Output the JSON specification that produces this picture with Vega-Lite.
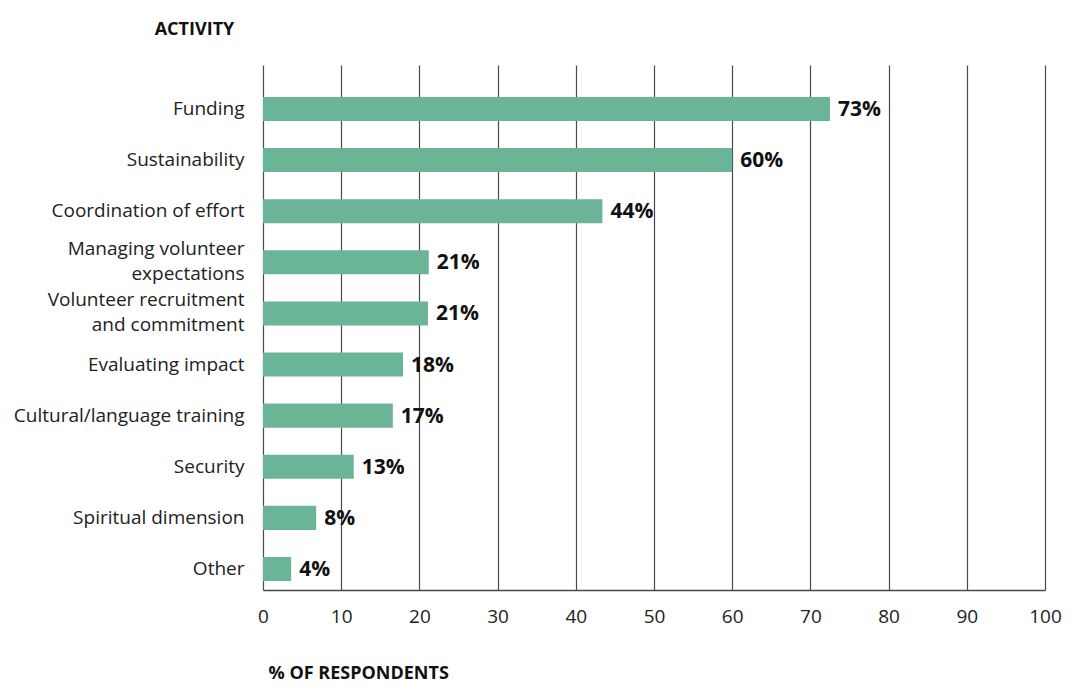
{
  "$schema": "https://vega.github.io/schema/vega-lite/v6.json",
  "autosize": "none",
  "width": 782,
  "height": 525,
  "padding": {"left": 263, "top": 65, "right": 23, "bottom": 95},
  "background": "white",
  "config": {
    "view": {"stroke": null},
    "font": "Open Sans"
  },
  "data": {
    "values": [
      {"activity": "Funding", "pct": 72.5, "label": "73%"},
      {"activity": "Sustainability", "pct": 60.0, "label": "60%"},
      {"activity": "Coordination of effort", "pct": 43.4, "label": "44%"},
      {"activity": "Managing volunteer|expectations", "pct": 21.2, "label": "21%"},
      {"activity": "Volunteer recruitment|and commitment", "pct": 21.1, "label": "21%"},
      {"activity": "Evaluating impact", "pct": 17.9, "label": "18%"},
      {"activity": "Cultural/language training", "pct": 16.6, "label": "17%"},
      {"activity": "Security", "pct": 11.6, "label": "13%"},
      {"activity": "Spiritual dimension", "pct": 6.8, "label": "8%"},
      {"activity": "Other", "pct": 3.6, "label": "4%"}
    ]
  },
  "encoding": {
    "y": {
      "field": "activity",
      "type": "nominal",
      "sort": null,
      "scale": {"paddingInner": 0.53, "paddingOuter": 0.4, "align": 0.78},
      "axis": {
        "title": "ACTIVITY",
        "titleAngle": 0,
        "titleX": -69,
        "titleY": -36,
        "titleAlign": "center",
        "titleBaseline": "middle",
        "titleFontSize": 18,
        "titleFontWeight": "bold",
        "titleColor": "#111",
        "labelExpr": "split(datum.label, '|')",
        "labelFontSize": 19,
        "labelColor": "#222",
        "labelPadding": 19,
        "labelLineHeight": 25,
        "labelLimit": 400,
        "labelOffset": {"condition": {"test": "indexof(datum.value, '|') >= 0", "value": -13}, "value": 0},
        "ticks": false,
        "domain": false,
        "grid": false
      }
    }
  },
  "layer": [
    {
      "mark": {"type": "bar", "color": "#6ab497"},
      "encoding": {
        "x": {
          "field": "pct",
          "type": "quantitative",
          "scale": {"domain": [0, 100], "nice": false},
          "axis": {
            "values": [0, 10, 20, 30, 40, 50, 60, 70, 80, 90, 100],
            "title": "% OF RESPONDENTS",
            "titleX": 5,
            "titleY": 83,
            "titleAlign": "left",
            "titleAnchor": "start",
            "titleBaseline": "middle",
            "titleFontSize": 18,
            "titleFontWeight": "bold",
            "titleColor": "#111",
            "labelFontSize": 19,
            "labelColor": "#222",
            "labelPadding": 17,
            "labelFlush": false,
            "grid": true,
            "gridColor": "#4a4a4a",
            "gridWidth": 1.2,
            "gridOpacity": 1,
            "ticks": false,
            "domain": true,
            "domainColor": "#4a4a4a",
            "domainWidth": 1.5,
            "zindex": 0
          }
        }
      }
    },
    {
      "mark": {"type": "text", "align": "left", "baseline": "middle", "dx": 8, "dy": 1, "fontSize": 21, "fontWeight": "bold", "color": "#111"},
      "encoding": {
        "x": {"field": "pct", "type": "quantitative"},
        "text": {"field": "label"}
      }
    }
  ]
}
